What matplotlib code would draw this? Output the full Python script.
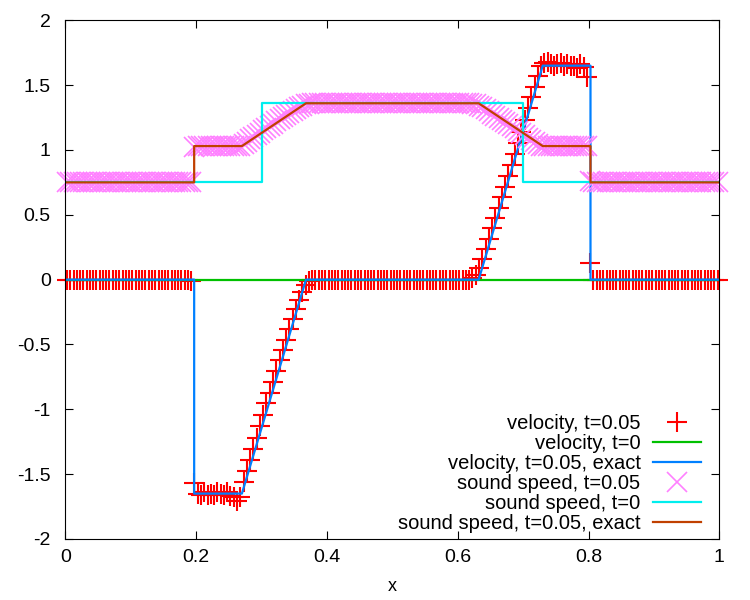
import numpy as np
import matplotlib
matplotlib.use('Agg')
import matplotlib.pyplot as plt
from matplotlib.ticker import FormatStrFormatter

plt.rcParams['font.family'] = ['Liberation Sans', 'DejaVu Sans']
plt.rcParams['axes.unicode_minus'] = False

# mesh: 200 cells on [0, 1], values at cell centres
n_cells = 200
x_cells = (np.arange(n_cells) + 0.5) / n_cells

# numerical velocity at t=0.05
u_num = [
    0, 0, 0, 0, 0, 0, 0, 0, 0, 0,
    0, 0, 0, 0, 0, 0, 0, 0, 0, 0,
    0, 0, 0, 0, 0, 0, 0, 0, 0, 0,
    0, 0, 0, 0, 0, 0, 0, 0, -0.01, -1.57,
    -1.65, -1.66, -1.64, -1.66, -1.65, -1.66, -1.64, -1.65, -1.66, -1.64,
    -1.67, -1.68, -1.71, -1.68, -1.557, -1.475, -1.390, -1.305, -1.218, -1.128,
    -1.043, -0.953, -0.871, -0.786, -0.701, -0.619, -0.542, -0.465, -0.383, -0.306,
    -0.228, -0.157, -0.092, -0.041, -0.01, 0, 0, 0, 0, 0,
    0, 0, 0, 0, 0, 0, 0, 0, 0, 0,
    0, 0, 0, 0, 0, 0, 0, 0, 0, 0,
    0, 0, 0, 0, 0, 0, 0, 0, 0, 0,
    0, 0, 0, 0, 0, 0, 0, 0, 0, 0,
    0, 0, 0, 0, 0.01, 0.036, 0.093, 0.16, 0.237, 0.314,
    0.396, 0.473, 0.550, 0.640, 0.717, 0.802, 0.884, 0.969, 1.05, 1.14,
    1.231, 1.321, 1.406, 1.488, 1.573, 1.650, 1.67, 1.68, 1.66, 1.65,
    1.66, 1.67, 1.65, 1.66, 1.65, 1.65, 1.63, 1.66, 1.64, 1.56,
    0.125, 0, 0, 0, 0, 0, 0, 0, 0, 0,
    0, 0, 0, 0, 0, 0, 0, 0, 0, 0,
    0, 0, 0, 0, 0, 0, 0, 0, 0, 0,
    0, 0, 0, 0, 0, 0, 0, 0, 0, 0,
]

# numerical sound speed at t=0.05
c_num = [
    0.75, 0.75, 0.75, 0.75, 0.75, 0.75, 0.75, 0.75, 0.75, 0.75,
    0.75, 0.75, 0.75, 0.75, 0.75, 0.75, 0.75, 0.75, 0.75, 0.75,
    0.75, 0.75, 0.75, 0.75, 0.75, 0.75, 0.75, 0.75, 0.75, 0.75,
    0.75, 0.75, 0.75, 0.75, 0.75, 0.75, 0.75, 0.75, 0.75, 1.02,
    1.03, 1.03, 1.03, 1.03, 1.03, 1.03, 1.03, 1.03, 1.03, 1.03,
    1.03, 1.03, 1.03, 1.03, 1.049, 1.065, 1.082, 1.099, 1.116, 1.134,
    1.151, 1.169, 1.186, 1.203, 1.220, 1.236, 1.252, 1.267, 1.283, 1.299,
    1.314, 1.329, 1.342, 1.352, 1.358, 1.36, 1.36, 1.36, 1.36, 1.36,
    1.36, 1.36, 1.36, 1.36, 1.36, 1.36, 1.36, 1.36, 1.36, 1.36,
    1.36, 1.36, 1.36, 1.36, 1.36, 1.36, 1.36, 1.36, 1.36, 1.36,
    1.36, 1.36, 1.36, 1.36, 1.36, 1.36, 1.36, 1.36, 1.36, 1.36,
    1.36, 1.36, 1.36, 1.36, 1.36, 1.36, 1.36, 1.36, 1.36, 1.36,
    1.36, 1.36, 1.36, 1.36, 1.358, 1.353, 1.341, 1.328, 1.313, 1.297,
    1.281, 1.265, 1.250, 1.232, 1.217, 1.200, 1.183, 1.166, 1.150, 1.132,
    1.114, 1.096, 1.079, 1.062, 1.045, 1.030, 1.03, 1.03, 1.03, 1.03,
    1.03, 1.03, 1.03, 1.03, 1.03, 1.03, 1.03, 1.03, 1.03, 1.03,
    0.76, 0.75, 0.75, 0.75, 0.75, 0.75, 0.75, 0.75, 0.75, 0.75,
    0.75, 0.75, 0.75, 0.75, 0.75, 0.75, 0.75, 0.75, 0.75, 0.75,
    0.75, 0.75, 0.75, 0.75, 0.75, 0.75, 0.75, 0.75, 0.75, 0.75,
    0.75, 0.75, 0.75, 0.75, 0.75, 0.75, 0.75, 0.75, 0.75, 0.75,
]

# initial state
x_u0 = [0, 1]
u_0 = [0, 0]
x_c0 = [0, 0.3, 0.3, 0.7, 0.7, 1]
c_0 = [0.75, 0.75, 1.36, 1.36, 0.75, 0.75]

# exact solution at t=0.05 (shocks, rarefactions, plateaus)
x_exact = [0, 0.197, 0.197, 0.27, 0.368, 0.632, 0.73, 0.803, 0.803, 1]
u_exact = [0, 0, -1.65, -1.65, 0, 0, 1.65, 1.65, 0, 0]
c_exact = [0.75, 0.75, 1.03, 1.03, 1.36, 1.36, 1.03, 1.03, 0.75, 0.75]

fig = plt.figure(figsize=(7.5, 6), dpi=100)
ax = fig.add_axes([0.0871, 0.1017, 0.872, 0.8645])

ax.plot(x_cells, u_num, linestyle='none', marker='+', ms=14.4, mew=1.5,
        color='#ff0000', clip_on=False, label='velocity, t=0.05')
ax.plot(x_u0, u_0, color='#00c000', lw=1.6, label='velocity, t=0')
ax.plot(x_exact, u_exact, color='#0080ff', lw=1.6, label='velocity, t=0.05, exact')
ax.plot(x_cells, c_num, linestyle='none', marker='x', ms=14.4, mew=1.2,
        color='#ff80ff', clip_on=False, label='sound speed, t=0.05')
ax.plot(x_c0, c_0, color='#00eeee', lw=1.6, label='sound speed, t=0')
ax.plot(x_exact, c_exact, color='#c04000', lw=1.6, label='sound speed, t=0.05, exact')

ax.set_xlim(0, 1)
ax.set_ylim(-2, 2)
ax.set_xticks(np.arange(0, 1.01, 0.2))
ax.set_yticks(np.arange(-2, 2.01, 0.5))
ax.xaxis.set_major_formatter(FormatStrFormatter('%g'))
ax.yaxis.set_major_formatter(FormatStrFormatter('%g'))
ax.tick_params(direction='in', length=6, width=0.8, top=True, right=True,
               labelsize=14)
ax.tick_params(axis='x', pad=7)
ax.tick_params(axis='y', pad=10.5)
for s in ax.spines.values():
    s.set_linewidth(0.8)
ax.set_xlabel('x', fontsize=13, labelpad=9)

# markerfirst=False right-aligns the entries, gnuplot style
ax.legend(loc='lower right', bbox_to_anchor=(0.972, 0.012), frameon=False,
          markerfirst=False, handlelength=2.4, handletextpad=0.6,
          labelspacing=0.05, borderaxespad=0, borderpad=0, fontsize=14.5)

fig.savefig('out.png', dpi=100)
